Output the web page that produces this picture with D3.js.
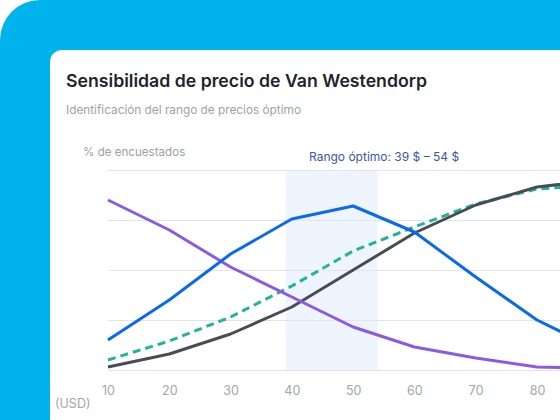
<!DOCTYPE html>
<html><head><meta charset="utf-8">
<script src="https://cdn.jsdelivr.net/npm/d3@7/dist/d3.min.js"></script>
<style>html,body{margin:0;padding:0;background:#fff;overflow:hidden;}svg{display:block;}</style>
</head><body>
<script>
const prices = [10, 20, 30, 40, 50, 60, 70, 80, 90];
const tooCheap = [85, 70, 51.5, 36.5, 21.5, 11.5, 6, 1.5, 1];
const bargain = [15, 35, 58, 75.5, 82, 69, 46.5, 25, 10];
const expensive = [1.5, 8, 18, 31.5, 50, 68.5, 82.5, 91.5, 95];
const tooExpensive = [5, 14.5, 26.5, 42, 59.5, 71.5, 83, 90.5, 92.5];
const xTicks = [10, 20, 30, 40, 50, 60, 70, 80];
const yTicks = [0, 25, 50, 75, 100];
const optimalRange = [39, 54];
const seriesNames = ["Demasiado barato", "Barato", "Caro", "Demasiado caro"];

const W = 560, H = 420;
const svg = d3.select("body").append("svg").attr("width", W).attr("height", H);
svg.append("rect").attr("x", 0).attr("y", 0).attr("width", W + 60).attr("height", H + 60).attr("rx", 40).attr("fill", "#00B3ED");
svg.append("rect").attr("x", 50).attr("y", 50).attr("width", W + 40).attr("height", H + 40).attr("rx", 12).attr("fill", "#ffffff");

const font = "Inter, 'Noto Sans', sans-serif";
svg.append("text").attr("x", 66).attr("y", 87).text("Sensibilidad de precio de Van Westendorp")
  .attr("font-family", font).attr("font-size", 17.7).attr("font-weight", 600).attr("fill", "#1E232D");
svg.append("text").attr("x", 66).attr("y", 114).text("Identificación del rango de precios óptimo")
  .attr("font-family", font).attr("font-size", 11.8).attr("fill", "#9EA1A8");
svg.append("text").attr("x", 83).attr("y", 156).text("% de encuestados")
  .attr("font-family", font).attr("font-size", 11.6).attr("fill", "#9EA1A8");

const x = d3.scaleLinear().domain([10, 80]).range([108, 537]);
const y = d3.scaleLinear().domain([0, 100]).range([370, 170]);

// band
svg.append("rect").attr("x", x(optimalRange[0])).attr("y", y(100))
  .attr("width", x(optimalRange[1]) - x(optimalRange[0])).attr("height", y(0) - y(100))
  .attr("fill", "#EEF5FE");
svg.append("text").attr("x", 309).attr("y", 161).text("Rango óptimo: 39 $ – 54 $")
  .attr("font-family", font).attr("font-size", 12).attr("fill", "#3B57A8");

// grid
const yAxis = d3.axisLeft(y).tickValues(yTicks).tickSize(-(W + 20 - 108)).tickFormat("");
const gy = svg.append("g").attr("transform", "translate(108,0)").call(yAxis);
gy.select(".domain").remove();
gy.selectAll(".tick line").attr("stroke", "#E3E4E8").attr("stroke-width", 1);

// x axis labels
const xAxis = d3.axisBottom(x).tickValues(xTicks).tickSize(0).tickPadding(0);
const gx = svg.append("g").attr("transform", "translate(0,386)").call(xAxis);
gx.select(".domain").remove();
gx.selectAll(".tick text").attr("font-family", font).attr("font-size", 12.5).attr("fill", "#A3A5AB");
svg.append("text").attr("x", 55).attr("y", 408).text("(USD)")
  .attr("font-family", font).attr("font-size", 12.5).attr("fill", "#A3A5AB");

const line = d3.line().x((d, i) => x(prices[i])).y(d => y(d));
const series = [
  {name: seriesNames[3], values: tooExpensive, color: "#22B39A", dash: "8,5"},
  {name: seriesNames[2], values: expensive, color: "#484C55", dash: null},
  {name: seriesNames[0], values: tooCheap, color: "#8A5BE2", dash: null},
  {name: seriesNames[1], values: bargain, color: "#0B69EE", dash: null}
];
series.forEach(s => {
  svg.append("path").datum(s.values).attr("d", line).attr("fill", "none")
    .attr("stroke", s.color).attr("stroke-width", 3).attr("stroke-linejoin", "round")
    .attr("stroke-dasharray", s.dash);
});
</script>
</body></html>
